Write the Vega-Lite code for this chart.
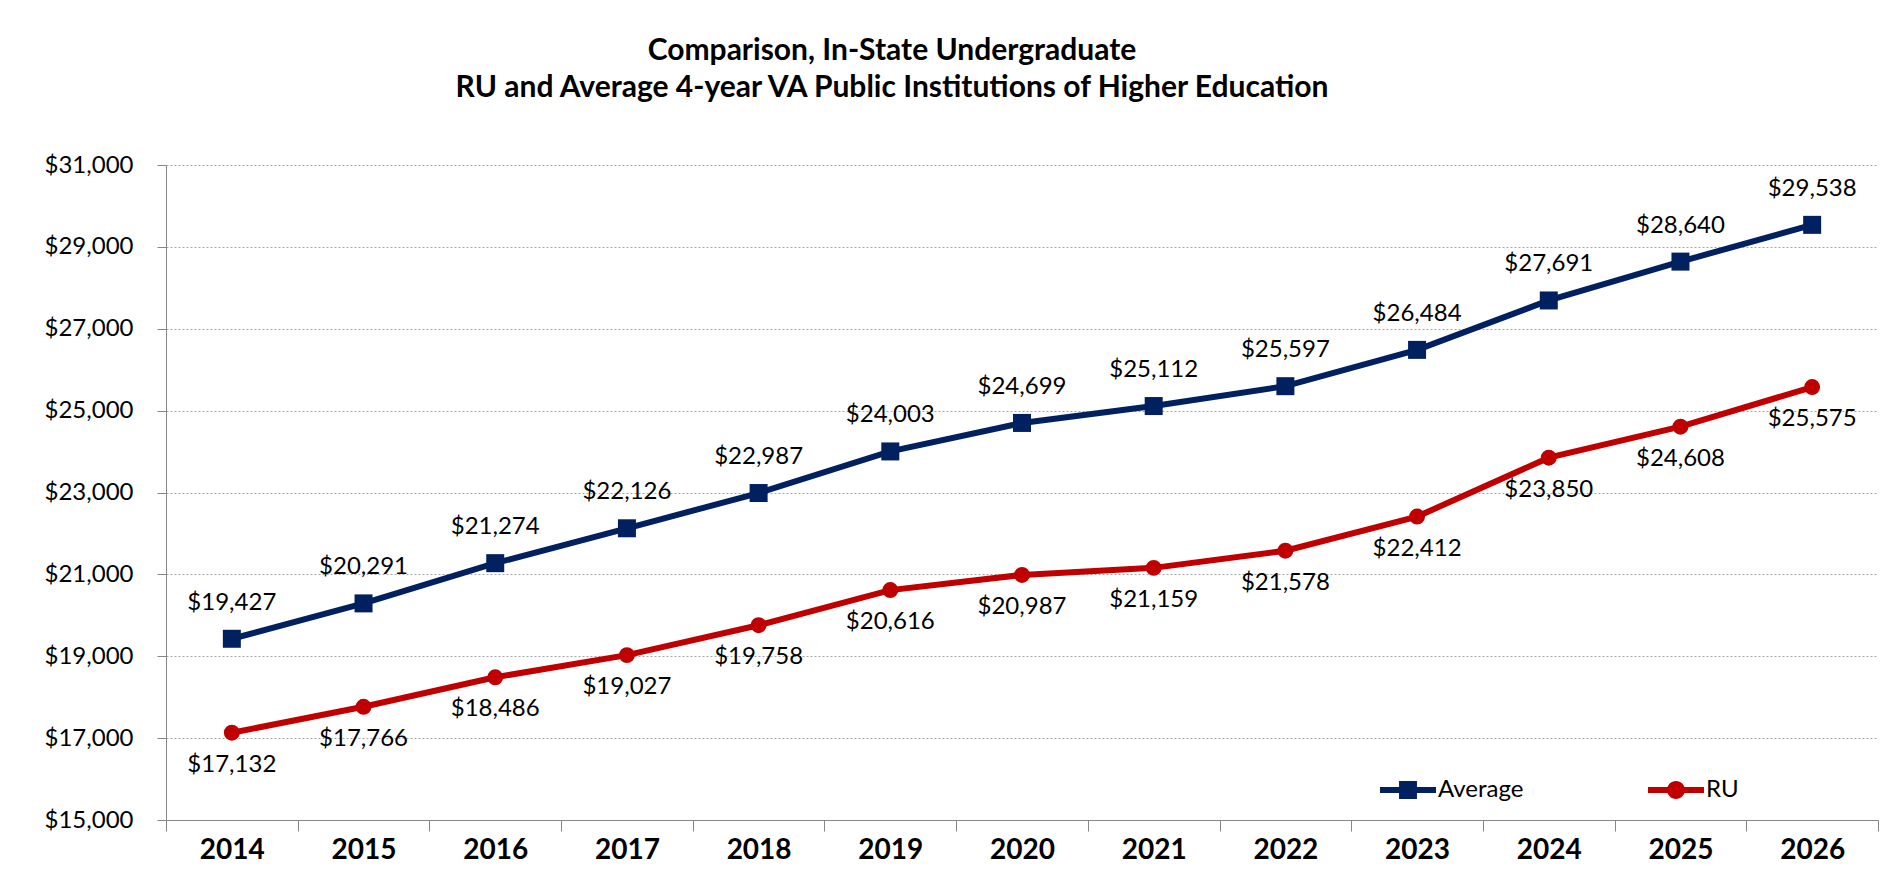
{
  "$schema": "https://vega.github.io/schema/vega-lite/v6.json",
  "width": 1712,
  "height": 655,
  "autosize": {"type": "none"},
  "padding": {"left": 166, "top": 165, "right": 10, "bottom": 72},
  "background": "white",
  "config": {"font": "Lato", "view": {"stroke": null}},
  "title": {
    "text": ["Comparison, In-State Undergraduate", "RU and Average 4-year VA Public Institutions of Higher Education"],
    "fontSize": 30,
    "fontWeight": "bold",
    "color": "black",
    "lineHeight": 37,
    "offset": 50,
    "dx": -130
  },
  "data": {
    "values": [
      {"year": "2014", "series": "Average", "value": 19427},
      {"year": "2015", "series": "Average", "value": 20291},
      {"year": "2016", "series": "Average", "value": 21274},
      {"year": "2017", "series": "Average", "value": 22126},
      {"year": "2018", "series": "Average", "value": 22987},
      {"year": "2019", "series": "Average", "value": 24003},
      {"year": "2020", "series": "Average", "value": 24699},
      {"year": "2021", "series": "Average", "value": 25112},
      {"year": "2022", "series": "Average", "value": 25597},
      {"year": "2023", "series": "Average", "value": 26484},
      {"year": "2024", "series": "Average", "value": 27691},
      {"year": "2025", "series": "Average", "value": 28640},
      {"year": "2026", "series": "Average", "value": 29538},
      {"year": "2014", "series": "RU", "value": 17132},
      {"year": "2015", "series": "RU", "value": 17766},
      {"year": "2016", "series": "RU", "value": 18486},
      {"year": "2017", "series": "RU", "value": 19027},
      {"year": "2018", "series": "RU", "value": 19758},
      {"year": "2019", "series": "RU", "value": 20616},
      {"year": "2020", "series": "RU", "value": 20987},
      {"year": "2021", "series": "RU", "value": 21159},
      {"year": "2022", "series": "RU", "value": 21578},
      {"year": "2023", "series": "RU", "value": 22412},
      {"year": "2024", "series": "RU", "value": 23850},
      {"year": "2025", "series": "RU", "value": 24608},
      {"year": "2026", "series": "RU", "value": 25575}
    ]
  },
  "encoding": {
    "x": {
      "field": "year",
      "type": "ordinal",
      "scale": {"type": "band", "paddingInner": 0, "paddingOuter": 0},
      "axis": {
        "title": null,
        "labelAngle": 0,
        "labelFontSize": 28,
        "labelFontWeight": "bold",
        "labelColor": "black",
        "domainColor": "#868686",
        "tickColor": "#868686",
        "tickSize": 11,
        "tickBand": "extent",
        "labelPadding": 5,
        "grid": false
      }
    },
    "y": {
      "field": "value",
      "type": "quantitative",
      "scale": {"domain": [15000, 31000], "nice": false, "zero": false},
      "axis": {
        "title": null,
        "values": [15000, 17000, 19000, 21000, 23000, 25000, 27000, 29000, 31000],
        "format": "$,.0f",
        "labelFontSize": 24,
        "labelColor": "black",
        "tickSize": 9,
        "labelPadding": 24,
        "domainColor": "#868686",
        "tickColor": "#868686",
        "gridColor": "#a6a6a6",
        "gridDash": [2, 2],
        "gridWidth": 1
      }
    }
  },
  "layer": [
    {
      "transform": [{"filter": "datum.series === 'Average'"}],
      "mark": {"type": "line", "color": "#002060", "strokeWidth": 6}
    },
    {
      "transform": [{"filter": "datum.series === 'RU'"}],
      "mark": {"type": "line", "color": "#C00000", "strokeWidth": 6}
    },
    {
      "transform": [{"filter": "datum.series === 'Average'"}],
      "mark": {"type": "square", "color": "#002060", "size": 324, "opacity": 1}
    },
    {
      "transform": [{"filter": "datum.series === 'RU'"}],
      "mark": {"type": "circle", "color": "#C00000", "size": 254, "opacity": 1}
    },
    {
      "transform": [{"filter": "datum.series === 'Average'"}],
      "mark": {"type": "text", "dy": -36, "fontSize": 24, "color": "black"},
      "encoding": {"text": {"field": "value", "type": "quantitative", "format": "$,.0f"}}
    },
    {
      "transform": [{"filter": "datum.series === 'RU'"}],
      "mark": {"type": "text", "dy": 32, "fontSize": 24, "color": "black"},
      "encoding": {"text": {"field": "value", "type": "quantitative", "format": "$,.0f"}}
    },
    {
      "mark": {"type": "point", "filled": true, "opacity": 0},
      "encoding": {
        "color": {
          "field": "series",
          "type": "nominal",
          "scale": {"domain": ["Average", "RU"], "range": ["#002060", "#C00000"]},
          "legend": {
            "orient": "none",
            "legendX": 1214,
            "legendY": 597,
            "direction": "horizontal",
            "title": null,
            "symbolSize": 3136,
            "symbolOpacity": 1,
            "symbolStrokeWidth": 0,
            "labelFontSize": 24,
            "labelColor": "black",
            "labelOffset": 2,
            "columnPadding": 124,
            "labelLimit": 300
          }
        },
        "shape": {
          "field": "series",
          "type": "nominal",
          "scale": {
            "domain": ["Average", "RU"],
            "range": [
              "M-1,-0.11H1V0.11H-1Z M-0.32,-0.32H0.32V0.32H-0.32Z",
              "M-1,-0.11H1V0.11H-1Z M0.32,0A0.32,0.32 0 1,1 -0.32,0A0.32,0.32 0 1,1 0.32,0Z"
            ]
          },
          "legend": {
            "orient": "none",
            "legendX": 1214,
            "legendY": 597,
            "direction": "horizontal",
            "title": null,
            "symbolSize": 3136,
            "symbolOpacity": 1,
            "symbolStrokeWidth": 0,
            "labelFontSize": 24,
            "labelColor": "black",
            "labelOffset": 2,
            "columnPadding": 124,
            "labelLimit": 300
          }
        }
      }
    }
  ]
}
